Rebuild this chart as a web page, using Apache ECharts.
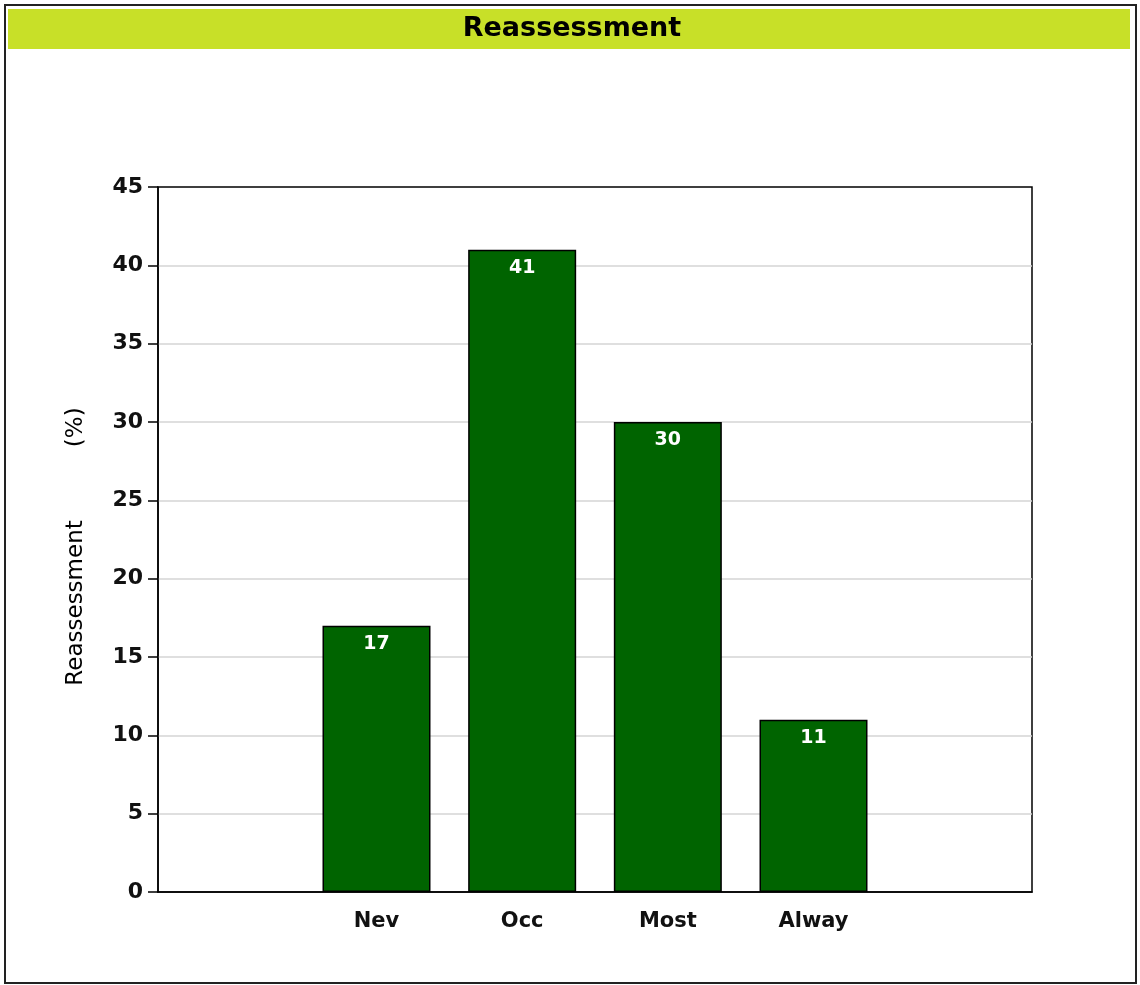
<!DOCTYPE html>
<html>
<head>
<meta charset="utf-8">
<script src="https://cdn.jsdelivr.net/npm/echarts@6/dist/echarts.min.js"></script>
<style>
  html, body { margin: 0; padding: 0; background: #fff; }
  #main { width: 1140px; height: 985px; }
</style>
</head>
<body>
<div id="main"></div>
<script>
// blank slots at both ends keep the bars centred as in the original
const categories = ['', 'Nev', 'Occ', 'Most', 'Alway', ''];
const values = ['-', 17, 41, 30, 11, '-'];
const yTicks = { min: 0, max: 45, interval: 5 };

const chart = echarts.init(document.getElementById('main'));
const font = '"DejaVu Sans", Verdana, sans-serif';

chart.setOption({
  animation: false,
  textStyle: { fontFamily: font },
  graphic: [
    {
      type: 'rect', z: -1,
      shape: { x: 5, y: 5, width: 1131, height: 978 },
      style: { fill: '#fff', stroke: '#222', lineWidth: 2 }
    },
    {
      type: 'rect',
      shape: { x: 8, y: 9, width: 1122, height: 40 },
      style: { fill: '#c8e028' }
    },
    {
      type: 'text', x: 572, y: 29,
      style: {
        text: 'Reassessment', fill: '#000', font: 'bold 27px ' + font,
        align: 'center', verticalAlign: 'middle'
      }
    }
  ],
  grid: {
    left: 158, right: 108, top: 187, bottom: 93,
    show: true, borderColor: '#000', borderWidth: 1.5, backgroundColor: 'transparent'
  },
  xAxis: {
    type: 'category',
    data: categories,
    axisLine: { lineStyle: { color: '#000', width: 1.5 } },
    axisTick: {
      alignWithLabel: true, length: 9,
      interval: (i, v) => v !== '',
      lineStyle: { color: '#000', width: 1.5 }
    },
    axisLabel: { color: '#111', fontWeight: 'bold', fontSize: 21, margin: 19, interval: 0 },
    splitLine: { show: false }
  },
  yAxis: {
    type: 'value',
    min: yTicks.min, max: yTicks.max, interval: yTicks.interval,
    name: 'Reassessment          (%)',
    nameLocation: 'middle',
    nameGap: 70,
    nameTextStyle: { color: '#000', fontSize: 23, fontFamily: font, padding: [0, 14, 0, 0] },
    axisLine: { show: true, lineStyle: { color: '#000', width: 1.5 } },
    axisTick: { show: true, length: 10, lineStyle: { color: '#000', width: 1.5 } },
    axisLabel: { color: '#111', fontWeight: 'bold', fontSize: 22, margin: 15 },
    splitLine: {
      show: true, showMinLine: false, showMaxLine: false,
      lineStyle: { color: '#d4d4d4', width: 1.5 }
    }
  },
  series: [{
    type: 'bar',
    data: values,
    barWidth: 108,
    itemStyle: { color: '#006400', borderColor: '#000', borderWidth: 1.5 },
    label: {
      show: true, position: 'insideTop', distance: 9,
      color: '#fff', fontWeight: 'bold', fontSize: 19
    }
  }]
});
</script>
</body>
</html>
